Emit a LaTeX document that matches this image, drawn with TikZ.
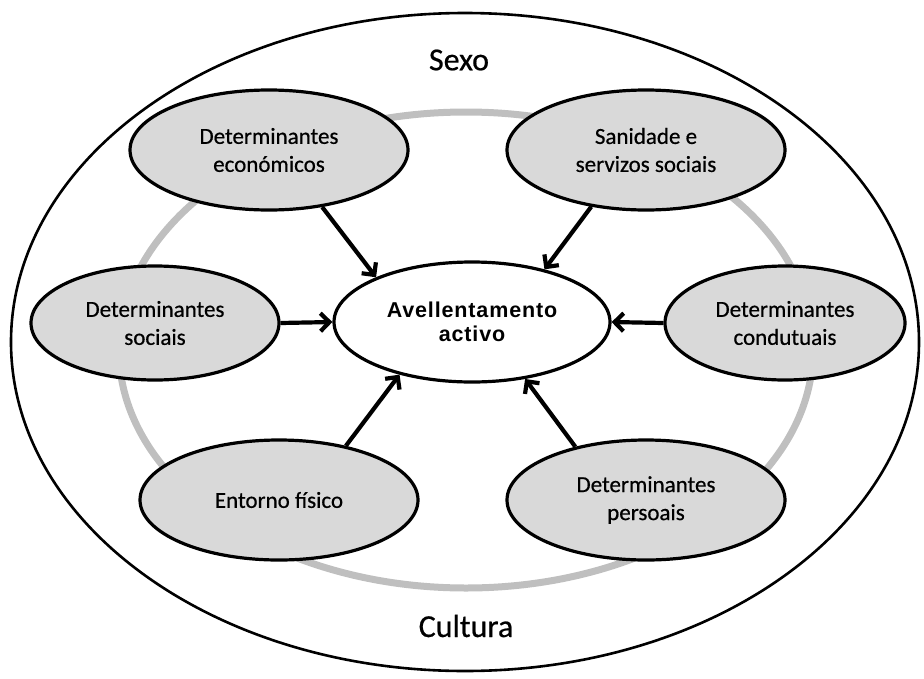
\documentclass[tikz,border=0pt]{standalone}
\usepackage{fontspec}
\setmainfont{Carlito}
\newfontfamily\labelfont{Carlito}[FakeBold=0.6]
\newfontfamily\centrefont{Liberation Sans}[LetterSpace=4]
\usetikzlibrary{arrows.meta,shapes.geometric}

\begin{document}
\begin{tikzpicture}[x=1pt, y=-1pt,
  det/.style={draw, ellipse, line width=3.2pt, fill=gray!30, align=center,
              minimum width=278pt, minimum height=120pt, inner sep=0pt,
              font=\labelfont\fontsize{23}{28}\selectfont},
  side/.style={det, minimum width=248pt, minimum height=114pt},
  core/.style={draw, ellipse, line width=3.2pt, fill=white, align=center,
               minimum width=276pt, minimum height=120pt, inner sep=0pt,
               font=\centrefont\bfseries\fontsize{21.5}{24}\selectfont},
  dep/.style={-{Straight Barb[length=9pt,width=18pt]}, line width=4.2pt},
  big/.style={font=\labelfont\fontsize{32}{36}\selectfont}
]
  \useasboundingbox (0,0) rectangle (924,678);
  % Background rings
  \node[draw, ellipse, line width=2.6pt, minimum width=908pt, minimum height=658pt,
        inner sep=0pt] (outer) at (465,342) {};
  \node[draw=gray!50, ellipse, line width=7pt, minimum width=694pt,
        minimum height=476pt, inner sep=0pt] (ring) at (466,350) {};
  \node[big] (sexo) at (459,60) {Sexo};
  \node[big] (cult) at (466,626) {Cultura};
  % Centre
  \node[core] (av) at (472,322) {Avellentamento\\ activo};
  % Top row
  \node[det] (eco) at (269,150) {Determinantes\\ económicos};
  \node[det] (san) at (646,150) {Sanidade e\\ servizos sociais};
  % Middle row
  \node[side] (soc) at (155,323) {Determinantes\\ sociais};
  \node[side, minimum width=240pt] (con) at (785,323) {Determinantes\\ condutuais};
  % Bottom row
  \node[det] (ent) at (279,500) {Entorno físico};
  \node[det] (per) at (646,500) {Determinantes\\ persoais};

  % Arrows into the centre
  \draw[dep] (eco.-47) -- (av.155);
  \draw[dep] (san.-134) -- (av.36);
  \draw[dep] (soc.east) -- (av.west);
  \draw[dep] (con.west) -- (av.east);
  \draw[dep] (ent.39) -- (av.-144);
  \draw[dep] (per.143) -- (av.-47);
\end{tikzpicture}
\end{document}
